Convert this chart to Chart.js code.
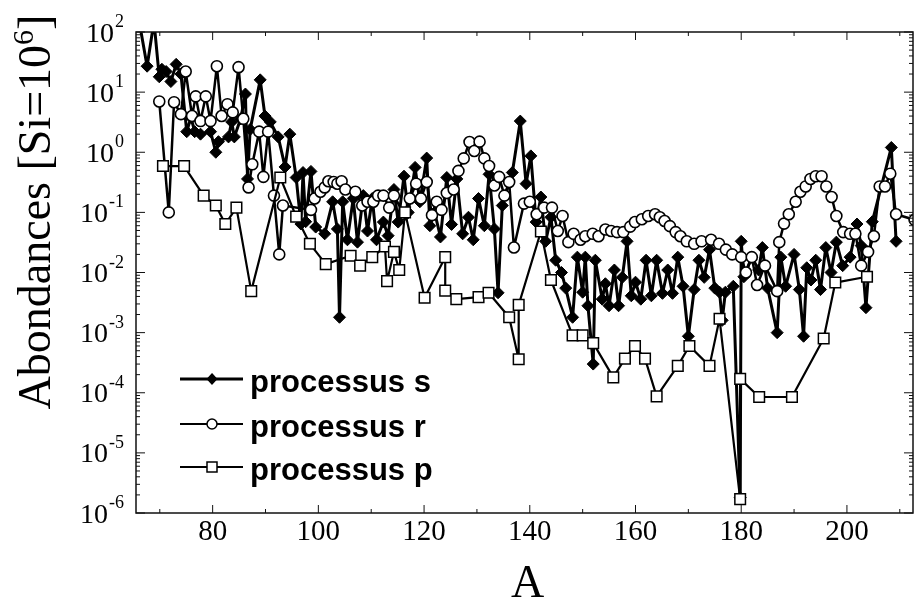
<!DOCTYPE html>
<html>
<head>
<meta charset="utf-8">
<script src="https://cdn.jsdelivr.net/npm/chart.js@4/dist/chart.umd.min.js"></script>
<style>
  html, body { margin: 0; padding: 0; background: #fff; }
  canvas { display: block; }
</style>
</head>
<body>
<canvas id="chart" width="922" height="600"></canvas>
<script>
'use strict';

/* ── data: mass number A vs abundance [Si = 1e6] ── */
const sMass = [
  66.1, 67.6, 68.9, 69.9, 70.4, 71.2, 72.1, 73.1, 74.0, 75.1, 75.9, 76.6, 77.7, 79.6,
  80.6, 81.1, 83.0, 83.6, 84.1, 85.3, 86.2, 86.6, 87.1, 89.0, 89.9, 90.9, 92.4, 93.7,
  94.6, 95.8, 96.7, 97.1, 97.6, 98.6, 99.5, 101.2, 102.7, 103.6, 104.0, 104.6, 105.5,
  106.6, 107.4, 108.5, 109.3, 110.2, 111.0, 112.3, 113.2, 114.3, 115.1, 116.2, 117.0,
  118.3, 119.2, 120.5, 121.1, 122.0, 123.1, 124.3, 125.2, 126.2, 127.3, 128.4, 129.3,
  130.3, 131.4, 132.3, 133.3, 134.0, 134.8, 136.7, 138.2, 139.3, 140.2, 141.2, 142.1,
  143.0, 144.0, 144.9, 146.0, 146.8, 148.1, 149.0, 150.0, 150.5, 151.0, 152.0, 152.4,
  153.7, 154.3, 155.0, 156.0, 156.8, 157.5, 158.4, 159.2, 160.0, 161.0, 162.0, 163.0,
  164.0, 165.1, 166.1, 167.0, 168.0, 169.0, 170.0, 171.1, 172.0, 173.0, 174.0, 175.0,
  175.9, 176.4, 177.0, 178.5, 179.8, 180.0, 180.5, 182.0, 183.3, 184.0, 185.0, 186.8,
  187.5, 188.4, 190.0, 191.0, 191.8, 192.4, 193.2, 194.1, 195.0, 196.0, 197.0, 198.0,
  199.2, 200.6, 201.9, 202.7, 203.6, 204.8, 208.4, 209.3
];
const sAbund = [
  150, 27, 150, 18, 24, 22, 15, 29, 20, 2.2, 3.8, 2.2, 2.0, 2.2,
  1.0, 1.5, 1.8, 3.2, 1.8, 3.6, 9.3, 0.36, 2.4, 16, 4.0, 3.2, 1.8, 0.57,
  2.0, 0.38, 0.064, 0.46, 0.07, 0.48, 0.057, 0.044, 0.15, 0.053, 0.0018, 0.15, 0.035,
  0.17, 0.032, 0.19, 0.049, 0.17, 0.035, 0.069, 0.041, 0.24, 0.069, 0.4, 0.1,
  0.56, 0.15, 0.8, 0.06, 0.1, 0.039, 0.38, 0.063, 0.36, 0.044, 0.083, 0.035,
  0.17, 0.06, 0.43, 0.053, 0.0046, 0.13, 0.46, 3.3, 0.3, 0.87, 0.069, 0.18,
  0.033, 0.083, 0.016, 0.01, 0.0055, 0.0018, 0.018, 0.0047, 0.018, 0.0028, 0.0003, 0.016,
  0.0036, 0.0065, 0.0028, 0.011, 0.0028, 0.0083, 0.033, 0.0041, 0.0069, 0.0036, 0.016, 0.0041,
  0.016, 0.0045, 0.011, 0.0045, 0.018, 0.0059, 0.00087, 0.0052, 0.016, 0.0083, 0.024, 0.0055,
  0.0047, 0.0016, 0.0047, 0.0059, 1.8e-6, 0.033, 0.0085, 0.018, 0.011, 0.026, 0.0055, 0.001,
  0.018, 0.0059, 0.02, 0.0052, 0.00087, 0.012, 0.0075, 0.016, 0.0052, 0.026, 0.01, 0.032,
  0.013, 0.018, 0.064, 0.028, 0.0026, 0.07, 1.2, 0.033
];

const rMass = [
  69.9, 71.7, 72.7, 74.0, 74.9, 76.1, 76.8, 77.7, 78.7, 79.6, 80.8, 81.7, 82.8, 83.8,
  84.9, 85.8, 86.8, 87.5, 88.8, 89.6, 90.5, 91.6, 92.6, 93.3, 98.6, 99.3, 100.4, 101.2,
  101.9, 102.9, 103.6, 104.4, 105.1, 107.0, 108.3, 109.3, 110.4, 111.3, 112.3, 113.4,
  114.3, 116.2, 117.3, 118.5, 119.4, 120.5, 121.5, 122.4, 123.3, 124.3, 125.6, 126.5,
  127.5, 128.6, 129.5, 130.5, 131.4, 132.3, 133.3, 134.2, 135.2, 136.1, 137.0, 138.9,
  140.0, 141.3, 142.7, 144.2, 145.3, 146.2, 147.3, 148.3, 149.6, 150.5, 151.9, 153.0,
  154.3, 155.4, 156.5, 157.7, 159.0, 159.9, 161.2, 162.4, 163.7, 164.6, 165.5, 166.5,
  167.6, 168.5, 169.7, 171.1, 172.5, 174.3, 175.8, 177.1, 178.3, 180.0, 180.9, 182.0,
  183.0, 184.5, 186.8, 187.2, 188.1, 189.0, 190.3, 191.2, 192.2, 193.1, 194.1, 195.2,
  196.1, 197.1, 198.0, 199.3, 200.6, 201.6, 202.7, 204.0, 205.1, 206.2, 207.2, 208.2,
  209.3, 212.8
];
const rAbund = [
  7, 0.1, 6.8, 4.3, 22, 4, 8.5, 3.3, 8.5, 3.3, 27, 4, 6.3, 4.6,
  26, 3.6, 0.26, 0.63, 2.2, 0.39, 2.2, 0.19, 0.02, 0.13, 0.11, 0.17, 0.22, 0.26,
  0.33, 0.32, 0.3, 0.33, 0.24, 0.22, 0.13, 0.15, 0.15, 0.19, 0.19, 0.12,
  0.19, 0.093, 0.17, 0.3, 0.17, 0.32, 0.09, 0.15, 0.11, 0.21, 0.24, 0.49,
  0.79, 1.48, 1.05, 1.5, 0.79, 0.59, 0.28, 0.39, 0.19, 0.32, 0.026, 0.14,
  0.15, 0.093, 0.12, 0.12, 0.049, 0.087, 0.032, 0.044, 0.035, 0.04, 0.044, 0.04,
  0.052, 0.049, 0.047, 0.047, 0.058, 0.069, 0.077, 0.087, 0.093, 0.083, 0.072, 0.059,
  0.047, 0.04, 0.033, 0.03, 0.033, 0.035, 0.03, 0.024, 0.02, 0.018, 0.01, 0.018,
  0.0062, 0.013, 0.0049, 0.032, 0.065, 0.093, 0.15, 0.22, 0.27, 0.36, 0.4, 0.4,
  0.27, 0.18, 0.087, 0.047, 0.044, 0.044, 0.013, 0.022, 0.04, 0.27, 0.27, 0.44,
  0.093, 0.075
];

const pMass = [
  70.6, 74.6, 78.3, 80.6, 82.4, 84.5, 87.3, 92.8, 95.8, 98.4, 101.4, 106.1, 107.9,
  110.2, 112.6, 113.0, 114.3, 115.3, 116.4, 120.1, 124.0, 124.0, 126.1, 130.3, 132.2,
  136.1, 137.9, 137.9, 142.1, 144.0, 148.1, 150.0, 152.0, 155.8, 158.0, 159.9, 161.8,
  164.0, 168.0, 170.2, 174.0, 175.9, 179.8, 179.8, 183.4, 189.6, 195.6, 197.8, 203.8
];
const pAbund = [
  0.59, 0.59, 0.19, 0.13, 0.064, 0.12, 0.0049, 0.38, 0.085, 0.03, 0.0138, 0.019, 0.013,
  0.018, 0.027, 0.0072, 0.022, 0.011, 0.1, 0.0038, 0.018, 0.005, 0.0036, 0.0039, 0.0046,
  0.0018, 0.00036, 0.0029, 0.048, 0.0075, 0.0009, 0.0009, 0.00067, 0.00018, 0.00037, 0.0006, 0.00037,
  0.000087, 0.00028, 0.0006, 0.00028, 0.0017, 1.7e-6, 0.00017, 0.000085, 0.000085, 0.0008, 0.0068, 0.0085
];

/* ── axes ── */
const xTicks = [80, 100, 120, 140, 160, 180, 200];
const yExponents = [2, 1, 0, -1, -2, -3, -4, -5, -6];
const seriesLabels = ['processus s', 'processus r', 'processus p'];

const SERIF = "'Liberation Serif', 'Times New Roman', serif";
const SANS  = "'Liberation Sans', Arial, sans-serif";

function toPoints(xs, ys) {
  return xs.map((x, i) => ({ x: x, y: ys[i] }));
}

/* legend marker, same shapes as the dataset points */
function marker(ctx, kind, x, y) {
  ctx.save();
  ctx.lineWidth = 1.5;
  ctx.strokeStyle = '#000';
  ctx.beginPath();
  if (kind === 's') {
    ctx.moveTo(x, y - 5); ctx.lineTo(x + 4.5, y); ctx.lineTo(x, y + 5); ctx.lineTo(x - 4.5, y);
    ctx.closePath();
    ctx.fillStyle = '#000';
  } else if (kind === 'r') {
    ctx.arc(x, y, 5, 0, Math.PI * 2);
    ctx.fillStyle = '#fff';
  } else {
    ctx.rect(x - 5, y - 5, 10, 10);
    ctx.fillStyle = '#fff';
  }
  ctx.fill();
  ctx.stroke();
  ctx.restore();
}

/* frame, ticks, tick labels, titles and legend */
const decorations = {
  id: 'decorations',
  afterDatasetsDraw(chart) {
    const ctx = chart.ctx;
    const area = chart.chartArea;
    const xs = chart.scales.x;
    const ys = chart.scales.y;

    ctx.save();
    ctx.strokeStyle = '#111';
    ctx.lineWidth = 1.5;
    ctx.strokeRect(area.left, area.top, area.right - area.left, area.bottom - area.top);

    // log ticks on the left and right
    ctx.lineWidth = 1;
    for (let e = -6; e <= 2; e++) {
      for (let m = 1; m <= 9; m++) {
        const v = m * Math.pow(10, e);
        if (v > 100) break;
        const py = ys.getPixelForValue(v);
        const len = m === 1 ? 9 : 4;
        ctx.beginPath();
        ctx.moveTo(area.left, py); ctx.lineTo(area.left + len, py);
        ctx.moveTo(area.right, py); ctx.lineTo(area.right - len, py);
        ctx.stroke();
      }
    }
    // linear ticks on the bottom and top
    for (let a = 70; a <= 210; a += 10) {
      const px = xs.getPixelForValue(a);
      const len = a % 20 === 0 ? 8 : 4;
      ctx.beginPath();
      ctx.moveTo(px, area.bottom); ctx.lineTo(px, area.bottom - len);
      ctx.moveTo(px, area.top); ctx.lineTo(px, area.top + len);
      ctx.stroke();
    }

    ctx.fillStyle = '#000';

    // x tick labels
    ctx.font = '29px ' + SERIF;
    ctx.textAlign = 'center';
    ctx.textBaseline = 'alphabetic';
    xTicks.forEach(t => {
      ctx.fillText(String(t), xs.getPixelForValue(t), 540);
    });

    // y tick labels: 10 with a raised exponent
    ctx.textAlign = 'left';
    yExponents.forEach(e => {
      const py = ys.getPixelForValue(Math.pow(10, e));
      const exp = String(e);
      ctx.font = '18px ' + SERIF;
      const we = ctx.measureText(exp).width;
      ctx.font = '28px ' + SERIF;
      const wb = ctx.measureText('10').width;
      const right = 124;
      ctx.fillText('10', right - we - wb - 1, py + 9.5);
      ctx.font = '18px ' + SERIF;
      ctx.fillText(exp, right - we, py - 5);
    });

    // x title
    ctx.font = '46px ' + SERIF;
    ctx.textAlign = 'center';
    ctx.fillText('A', (area.left + area.right) / 2 + 3, 597);

    // y title, rotated
    ctx.save();
    ctx.translate(50, 212);
    ctx.rotate(-Math.PI / 2);
    ctx.textAlign = 'left';
    const main = 'Abondances [Si=10';
    ctx.font = '46px ' + SERIF;
    const w1 = ctx.measureText(main).width;
    const w3 = ctx.measureText(']').width;
    ctx.font = '30px ' + SERIF;
    const w2 = ctx.measureText('6').width;
    let cx = -(w1 + w2 + w3) / 2;
    ctx.font = '46px ' + SERIF;
    ctx.fillText(main, cx, 0);
    cx += w1;
    ctx.font = '30px ' + SERIF;
    ctx.fillText('6', cx, -17);
    cx += w2;
    ctx.font = '46px ' + SERIF;
    ctx.fillText(']', cx, 0);
    ctx.restore();

    // legend
    const rows = [
      { kind: 's', y: 379, lw: 3 },
      { kind: 'r', y: 424, lw: 2 },
      { kind: 'p', y: 467, lw: 2 },
    ];
    ctx.font = 'bold 31px ' + SANS;
    ctx.textAlign = 'left';
    rows.forEach((row, i) => {
      ctx.strokeStyle = '#000';
      ctx.lineWidth = row.lw;
      ctx.beginPath();
      ctx.moveTo(180, row.y); ctx.lineTo(243, row.y);
      ctx.stroke();
      marker(ctx, row.kind, 212, row.y);
      ctx.fillStyle = '#000';
      ctx.fillText(seriesLabels[i], 250, row.y + 13);
    });

    ctx.restore();
  }
};

new Chart(document.getElementById('chart'), {
  type: 'line',
  data: {
    datasets: [
      {
        label: seriesLabels[2],
        data: toPoints(pMass, pAbund),
        borderColor: '#000',
        borderWidth: 2.2,
        borderJoinStyle: 'round',
        pointStyle: 'rect',
        pointRadius: 7.5,
        pointBackgroundColor: '#fff',
        pointBorderColor: '#000',
        pointBorderWidth: 1.5,
        tension: 0,
      },
      {
        label: seriesLabels[1],
        data: toPoints(rMass, rAbund),
        borderColor: '#000',
        borderWidth: 2.5,
        borderJoinStyle: 'round',
        pointStyle: 'circle',
        pointRadius: 5.5,
        pointBackgroundColor: '#fff',
        pointBorderColor: '#000',
        pointBorderWidth: 1.6,
        tension: 0,
      },
      {
        label: seriesLabels[0],
        data: toPoints(sMass, sAbund),
        borderColor: '#000',
        borderWidth: 3,
        borderJoinStyle: 'round',
        pointStyle: 'rectRot',
        pointRadius: 6,
        pointBackgroundColor: '#000',
        pointBorderColor: '#000',
        pointBorderWidth: 1,
        tension: 0,
      },
    ],
  },
  options: {
    responsive: false,
    devicePixelRatio: 1,
    animation: false,
    layout: { padding: { left: 136, right: 2, top: 32, bottom: 87 } },
    plugins: {
      legend: { display: false },
      tooltip: { enabled: false },
    },
    scales: {
      x: { type: 'linear', min: 65.5, max: 212.5, display: false },
      y: { type: 'logarithmic', min: 1e-6, max: 100, display: false },
    },
  },
  plugins: [decorations],
});
</script>
</body>
</html>
